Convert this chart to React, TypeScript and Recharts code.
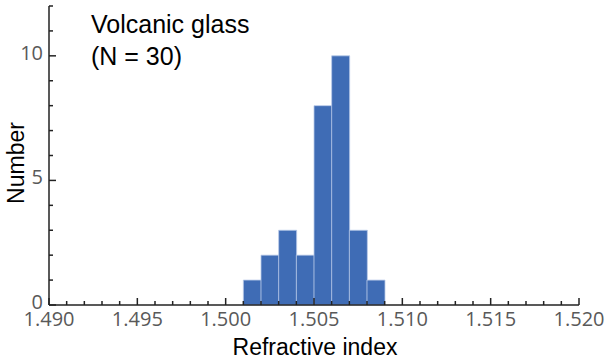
import React from "react";
import { BarChart, Bar, XAxis, YAxis, Label } from "recharts";

// histogram bins (centre of each 0.001 wide bin) and counts
const binCenters = [1.5015, 1.5025, 1.5035, 1.5045, 1.5055, 1.5065, 1.5075, 1.5085];
const counts = [1, 2, 3, 2, 8, 10, 3, 1];

const xTicks = Array.from({ length: 31 }, (_, i) => Number((1.49 + i * 0.001).toFixed(3)));
const xLabelTicks = [1.49, 1.495, 1.5, 1.505, 1.51, 1.515, 1.52];
const yTicks = [0, 1, 2, 3, 4, 5, 6, 7, 8, 9, 10, 11, 12];
const yLabelTicks = [0, 5, 10];

const titleLines = ["Volcanic glass", "(N = 30)"];
const xTitle = "Refractive index";
const yTitle = "Number";

const data = binCenters.map((x, i) => ({ x, count: counts[i] }));

const AXIS = "#222222";
const TICK_TEXT = "#595959";
const BAR = "#3F6CB5";
const TICK_FONT = "'Open Sans', 'Noto Sans', sans-serif";
const LABEL_FONT = "'Liberation Sans', Arial, sans-serif";

const isMajorX = (v: number) => xLabelTicks.some((t) => Math.abs(t - v) < 1e-6);

function XTick(props: any) {
  const { x, y, payload } = props;
  const major = isMajorX(payload.value);
  return (
    <g>
      <line x1={x} x2={x} y1={y} y2={y - (major ? 7 : 4)} stroke={AXIS} strokeWidth={1.5} />
      {major && (
        <text x={x} y={y + 21} textAnchor="middle" fill={TICK_TEXT} fontSize={20} fontFamily={TICK_FONT}>
          {payload.value.toFixed(3)}
        </text>
      )}
    </g>
  );
}

function YTick(props: any) {
  const { x, y, payload } = props;
  const major = yLabelTicks.includes(payload.value);
  return (
    <g>
      <line x1={x} x2={x + (major ? 7 : 4)} y1={y} y2={y} stroke={AXIS} strokeWidth={1.5} />
      {major && (
        <text x={x - 6} y={y + 4} textAnchor="end" fill={TICK_TEXT} fontSize={20} fontFamily={TICK_FONT}>
          {payload.value}
        </text>
      )}
    </g>
  );
}

export default function App() {
  return (
    <div style={{ position: "absolute", left: 0, top: 0, width: 606, height: 363, background: "#fff" }}>
      <BarChart
        width={606}
        height={363}
        data={data}
        margin={{ top: 6, right: 27, bottom: 0, left: 0 }}
        barCategoryGap={0}
        barGap={0}
      >
        <Bar dataKey="count" fill={BAR} stroke="#b9cae9" strokeWidth={0.8} isAnimationActive={false} />
        <XAxis
          dataKey="x"
          type="number"
          domain={[1.49, 1.52]}
          ticks={xTicks}
          interval={0}
          allowDataOverflow
          height={58}
          tickSize={0}
          tickMargin={0}
          tickLine={false}
          axisLine={{ stroke: AXIS, strokeWidth: 1.5 }}
          tick={<XTick />}
        >
          <Label
            content={() => (
              <text x={315} y={355} textAnchor="middle" fontSize={23} fontFamily={LABEL_FONT} fill="#000">
                {xTitle}
              </text>
            )}
          />
        </XAxis>
        <YAxis
          type="number"
          domain={[0, 12]}
          ticks={yTicks}
          interval={0}
          width={49}
          tickSize={0}
          tickMargin={0}
          tickLine={false}
          axisLine={{ stroke: AXIS, strokeWidth: 1.5 }}
          tick={<YTick />}
        >
          <Label
            content={() => (
              <text
                transform="translate(24,163) rotate(-90)"
                textAnchor="middle"
                fontSize={23}
                fontFamily={LABEL_FONT}
                fill="#000"
              >
                {yTitle}
              </text>
            )}
          />
        </YAxis>
      </BarChart>
      <svg width={606} height={363} style={{ position: "absolute", left: 0, top: 0, pointerEvents: "none" }}>
        {titleLines.map((line, i) => (
          <text key={line} x={91} y={32.5 + i * 32.5} fontSize={25} fontFamily={LABEL_FONT} fill="#000">
            {line}
          </text>
        ))}
      </svg>
    </div>
  );
}
